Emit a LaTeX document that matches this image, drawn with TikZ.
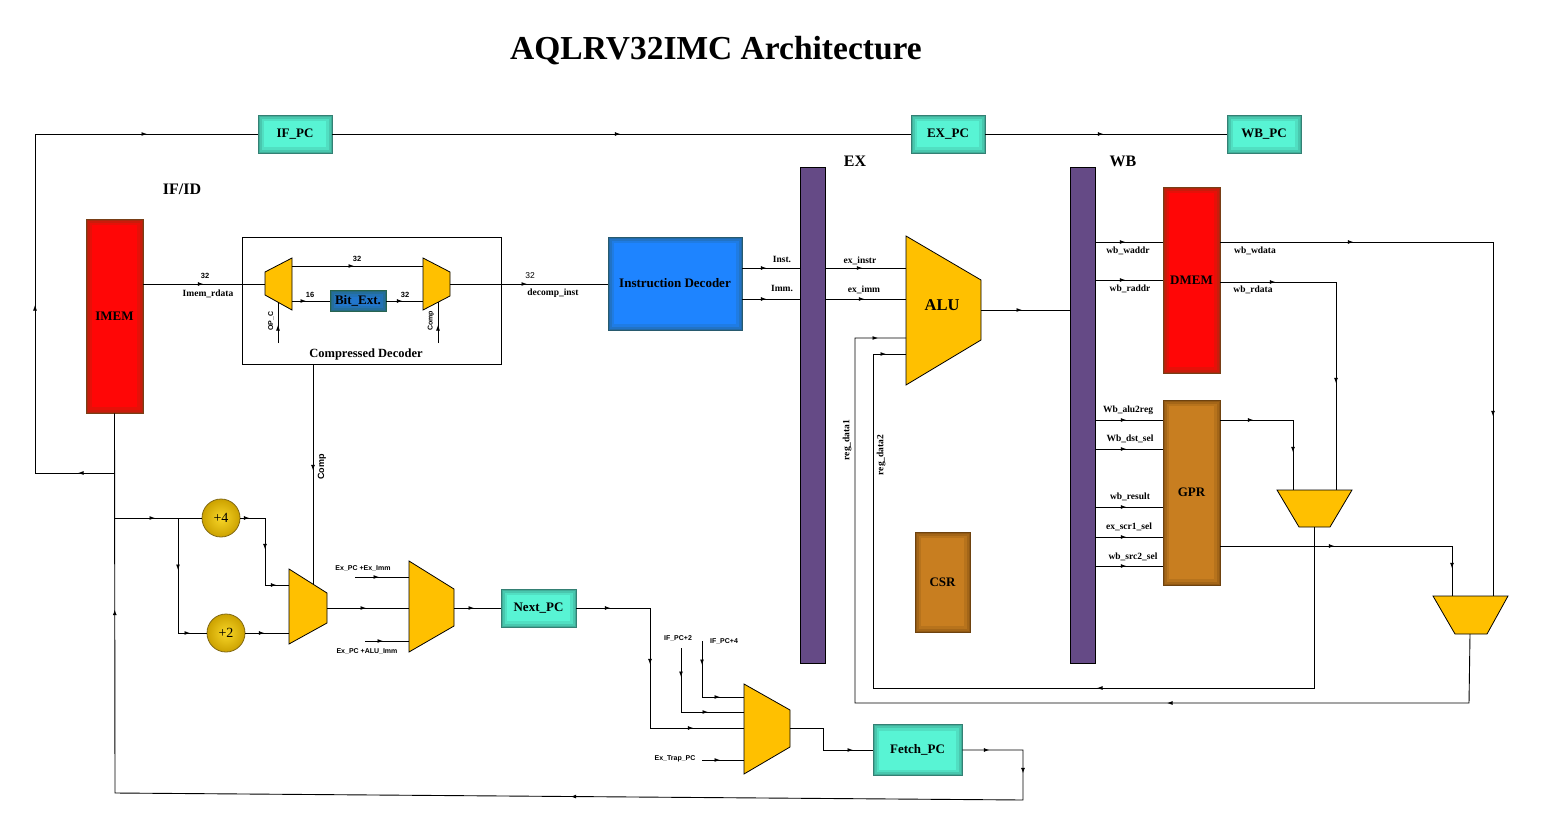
\documentclass[tikz,border=0pt]{standalone}
\usepackage{fontspec}
\setmainfont{Liberation Serif}
\newfontfamily\labsans{Liberation Sans}
\usetikzlibrary{arrows.meta,decorations.markings,calc}

\newcommand\fsz[1]{\fontsize{#1}{#1}\selectfont}

\definecolor{pcteal}{RGB}{88,244,212}
\definecolor{pcedge}{RGB}{52,128,116}
\definecolor{memred}{RGB}{255,6,6}
\definecolor{memedge}{RGB}{120,62,22}
\definecolor{decblue}{RGB}{30,132,255}
\definecolor{decedge}{RGB}{40,90,110}
\definecolor{extblue}{RGB}{34,118,204}
\definecolor{extedge}{RGB}{40,100,80}
\definecolor{muxgold}{RGB}{255,192,0}
\definecolor{stagepurple}{RGB}{101,74,134}
\definecolor{regbrown}{RGB}{200,126,32}
\definecolor{regedge}{RGB}{110,66,14}
\definecolor{coinin}{RGB}{248,214,40}
\definecolor{coinout}{RGB}{204,162,0}
\definecolor{coinedge}{RGB}{130,105,20}

\tikzset{
  wire/.style={line width=0.9pt, draw=black},
  arrowsat/.style={postaction={decorate, decoration={markings,
      mark=at position #1 with {\arrow{Latex[length=5.5pt,width=4pt]}}}}},
  glow/.style 2 args={fill=#1, draw=#2, line width=0.8pt, path picture={
      \foreach \w/\o in {12/0.18, 7/0.25, 3/0.35}{
        \draw[draw=#2, line width=\w pt, opacity=\o]
          (path picture bounding box.south west) rectangle (path picture bounding box.north east);}}},
  box/.style={rectangle, inner sep=0pt, font=\bfseries\fsz{13}, align=center},
  sz/.style 2 args={minimum width=#1, minimum height=#2},
  stagebar/.style={rectangle, inner sep=0pt, fill=stagepurple, draw=black, line width=0.6pt,
      minimum width=25, minimum height=496},
  muxshape/.style={fill=muxgold, draw=black, line width=0.8pt, line join=miter},
  coin/.style={circle, minimum size=38, inner sep=0pt, draw=coinedge, line width=0.8pt,
      inner color=coinin, outer color=coinout, font=\fsz{14}},
  lab/.style={font=\bfseries\fsz{9.5}, inner sep=0pt},
  slab/.style={font=\labsans\bfseries\fsz{7}, inner sep=0pt},
  stagelab/.style={font=\bfseries\fsz{16}, inner sep=0pt},
}

\begin{document}
\begin{tikzpicture}[x=1pt,y=-1pt]
\useasboundingbox (0,0) rectangle (1544,816);
\fill[white] (0,0) rectangle (1544,816);

\node[font=\bfseries\fsz{33.5}, inner sep=0pt] (title) at (716,51) {AQLRV32IMC Architecture};

% ---------- blocks ----------
\node[box,glow={pcteal}{pcedge},sz={74}{38}] (ifpc) at (295,134) {IF\_PC};
\node[box,glow={pcteal}{pcedge},sz={74}{38}] (expc) at (948,134) {EX\_PC};
\node[box,glow={pcteal}{pcedge},sz={74}{38}] (wbpc) at (1264,134) {WB\_PC};
\node[box,glow={pcteal}{pcedge},sz={75}{38}] (nextpc) at (538.5,608) {Next\_PC};
\node[box,glow={pcteal}{pcedge},sz={89}{51}] (fetchpc) at (917.5,750) {Fetch\_PC};

\node[box,glow={memred}{memedge},sz={57}{194}] (imem) at (114.5,316) {IMEM};
\node[box,glow={memred}{memedge},sz={57}{186}] (dmem) at (1191.5,280) {DMEM};
\node[box,glow={regbrown}{regedge},sz={57}{185}] (gpr) at (1191.5,492.5) {GPR};
\node[box,glow={regbrown}{regedge},sz={55}{100}] (csr) at (942.5,582) {CSR};
\node[box,glow={decblue}{decedge},sz={134}{93}] (idec) at (675,283.5) {Instruction Decoder};

\node[stagebar] (exbar) at (812.5,415) {};
\node[stagebar] (wbbar) at (1082.5,415) {};
\node[stagelab] (exlab) at (855,161) {EX};
\node[stagelab] (wblab) at (1123,161) {WB};
\node[stagelab] (ifidlab) at (182,189) {IF/ID};

% compressed decoder
\node[draw, line width=0.8pt, rectangle, inner sep=0pt, sz={259}{127}] (cdec) at (371.5,300.5) {};
\node[inner sep=0pt, font=\bfseries\fsz{12.5}] (cdeclab) at (366,354) {Compressed Decoder};
\node[box,glow={extblue}{extedge},sz={56}{21},font=\bfseries\fsz{13}] (bitext) at (358,301) {Bit\_Ext.};

% ---------- multiplexers ----------
\draw[muxshape] (265,272) -- (292,258) -- (292,310) -- (265,295) -- cycle;
\coordinate (m1in) at (265,284);
\coordinate (m1top) at (292,266);
\coordinate (m1bot) at (292,301);
\coordinate (m1sel) at (278,302);

\draw[muxshape] (423,258) -- (450,272) -- (450,296) -- (423,310) -- cycle;
\coordinate (m2top) at (423,266);
\coordinate (m2bot) at (423,301);
\coordinate (m2out) at (450,284);
\coordinate (m2sel) at (438,302);

\draw[muxshape] (906,236) -- (981,280) -- (981,340) -- (906,385) -- cycle;
\node[inner sep=0pt, font=\bfseries\fsz{16.5}] (alu) at (942,305) {ALU};
\coordinate (aluout) at (981,310);
\coordinate (aluinst) at (906,268);
\coordinate (aluimm) at (906,299);
\coordinate (alua) at (906,338);
\coordinate (alub) at (906,354);

\draw[muxshape] (289,569) -- (327,593) -- (327,623) -- (289,644) -- cycle;
\coordinate (m3in1) at (289,585);
\coordinate (m3in2) at (289,633);
\coordinate (m3out) at (327,608);
\coordinate (m3sel) at (313,584);

\draw[muxshape] (409,561) -- (454,589) -- (454,626) -- (409,652) -- cycle;
\coordinate (m4in1) at (409,577);
\coordinate (m4in2) at (409,608);
\coordinate (m4in3) at (409,641);
\coordinate (m4out) at (454,608);

\draw[muxshape] (744,684) -- (790,710) -- (790,747) -- (744,774) -- cycle;
\coordinate (m5in1) at (744,697);
\coordinate (m5in2) at (744,712);
\coordinate (m5in3) at (744,728);
\coordinate (m5in4) at (744,760);
\coordinate (m5out) at (790,728);

\draw[muxshape] (1277,490) -- (1352,490) -- (1330,527) -- (1299,527) -- cycle;
\coordinate (mLa) at (1293,490);
\coordinate (mLb) at (1336,490);
\coordinate (mLout) at (1314,527);

\draw[muxshape] (1433,596) -- (1508,596) -- (1487,634) -- (1455,634) -- cycle;
\coordinate (mRa) at (1452,596);
\coordinate (mRb) at (1493,596);
\coordinate (mRout) at (1470,634);

% adders
\node[coin] (inc4) at (221,518) {+4};
\node[coin] (inc2) at (226,633) {+2};

% ---------- PC path ----------
\draw[wire,arrowsat=288pt] (ifpc) -- (expc);
\draw[wire,arrowsat=118pt] (expc) -- (wbpc);

\coordinate (jpc) at (115,473);
\coordinate (jinc) at (115,518);
\coordinate (jsplit) at (178,518);
\draw[wire,arrowsat=37pt,arrowsat=248pt,arrowsat=531pt] (jpc) -- (35,473) -- (35,134) -- (ifpc.west);
\draw[wire,arrowsat=27pt,arrowsat=84pt,arrowsat=563pt,arrowsat=1202pt]
  (fetchpc.east) -- (1023,750) -- (1023,800) -- (115,793) -- (imem.south);

\draw[wire,arrowsat=40pt] (jinc) -- (inc4.west);
\draw[wire,arrowsat=52pt,arrowsat=127pt] (jsplit) -- (178,633) -- (inc2.west);
\draw[wire,arrowsat=9pt,arrowsat=56pt,arrowsat=103pt] (inc4.east) -- (265,518) -- (265,585) -- (m3in1);
\draw[wire,arrowsat=19pt] (inc2.east) -- (m3in2);
\draw[wire,arrowsat=39pt] (m3out) -- (m4in2);
\draw[wire,arrowsat=106pt] (cdec.south -| m3sel) -- (m3sel);
\node[font=\labsans\bfseries\fsz{9}, inner sep=0pt, rotate=90] (complab) at (322,467) {Comp};

\coordinate (eximm) at (355,577);
\coordinate (exalu) at (365,641);
\draw[wire,arrowsat=24pt] (eximm) -- (m4in1);
\draw[wire,arrowsat=18pt] (exalu) -- (m4in3);
\node[slab] (eximmlab) at (363,568) {Ex\_PC +Ex\_Imm};
\node[slab] (exalulab) at (367,651) {Ex\_PC +ALU\_Imm};
\draw[wire,arrowsat=20pt] (m4out) -- (nextpc.west);

\draw[wire,arrowsat=34pt,arrowsat=130pt,arrowsat=237pt] (nextpc.east) -- (650,608) -- (650,728) -- (m5in3);
\coordinate (pc2) at (681,648);
\coordinate (pc4) at (702,641);
\coordinate (trap) at (702,760);
\draw[wire,arrowsat=29pt,arrowsat=91pt] (pc2) -- (681,712) -- (m5in2);
\draw[wire,arrowsat=24pt,arrowsat=74pt] (pc4) -- (702,697) -- (m5in1);
\draw[wire,arrowsat=18pt] (trap) -- (m5in4);
\node[slab] (pc2lab) at (678,638) {IF\_PC+2};
\node[slab] (pc4lab) at (724,641) {IF\_PC+4};
\node[slab] (traplab) at (675,759) {Ex\_Trap\_PC};
\draw[wire,arrowsat=85pt] (m5out) -- (823,728) -- (823,750) -- (fetchpc.west);

% ---------- fetch / decode ----------
\draw[wire,arrowsat=60pt] (imem.east |- m1in) -- (m1in);
\node[font=\labsans\bfseries\fsz{7.5}, inner sep=0pt] (w32a) at (205,276) {32};
\node[lab] (imemlab) at (208,294) {Imem\_rdata};
\draw[wire,arrowsat=62pt] (m1top) -- (m2top);
\node[font=\labsans\bfseries\fsz{7.5}, inner sep=0pt] (w32b) at (357,259) {32};
\draw[wire,arrowsat=14pt] (m1bot) -- (bitext.west |- m1bot);
\node[font=\labsans\bfseries\fsz{7.5}, inner sep=0pt] (w16) at (310,295) {16};
\draw[wire,arrowsat=16pt] (bitext.east |- m2bot) -- (m2bot);
\node[font=\labsans\bfseries\fsz{7.5}, inner sep=0pt] (w32c) at (405,295) {32};
\coordinate (opc) at (278,343);
\coordinate (cmpin) at (438,343);
\draw[wire,arrowsat=18pt] (opc) -- (m1sel);
\draw[wire,arrowsat=18pt] (cmpin) -- (m2sel);
\node[slab, rotate=90] (opclab) at (271,321) {OP\_C};
\node[slab, rotate=90] (cmpinlab) at (431,321) {Comp};
\draw[wire,arrowsat=77pt] (m2out) -- (idec.west |- m2out);
\node[font=\labsans\fsz{8.5}, inner sep=0pt] (w32d) at (530,276) {32};
\node[lab] (decomplab) at (553,293) {decomp\_inst};

% ---------- execute ----------
\coordinate (yinst) at (0,268);
\coordinate (yimm) at (0,299);
\draw[wire,arrowsat=24pt] (idec.east |- yinst) -- (exbar.west |- yinst);
\draw[wire,arrowsat=24pt] (idec.east |- yimm) -- (exbar.west |- yimm);
\node[lab] (instlab) at (782,259) {Inst.};
\node[lab] (immlab) at (782,288) {Imm.};
\draw[wire,arrowsat=37pt] (exbar.east |- yinst) -- (aluinst);
\draw[wire,arrowsat=39pt] (exbar.east |- yimm) -- (aluimm);
\node[lab] (exinstrlab) at (860,261) {ex\_instr};
\node[lab] (eximmlab2) at (864,290) {ex\_imm};
\draw[wire,arrowsat=41pt] (aluout) -- (wbbar.west |- aluout);

\draw[wire,arrowsat=371pt,arrowsat=1071pt] (mRout) -- (1469,703) -- (855,703) -- (855,338) -- (alua);
\draw[wire,arrowsat=378pt,arrowsat=949pt] (mLout) -- (1314,688) -- (873,688) -- (873,354) -- (alub);
\node[lab, rotate=90] (rd1lab) at (847,440) {reg\_data1};
\node[lab, rotate=90] (rd2lab) at (881,455) {reg\_data2};

% ---------- write back ----------
\coordinate (ywa) at (0,242);
\coordinate (yra) at (0,280);
\draw[wire,arrowsat=30pt] (wbbar.east |- ywa) -- (dmem.west |- ywa);
\draw[wire,arrowsat=30pt] (wbbar.east |- yra) -- (dmem.west |- yra);
\node[lab] (wadlab) at (1128,251) {wb\_waddr};
\node[lab] (radlab) at (1130,289) {wb\_raddr};

\coordinate (yrd) at (0,282);
\draw[wire,arrowsat=133pt,arrowsat=447pt] (dmem.east |- ywa) -- (1493,242) -- (mRb);
\draw[wire,arrowsat=55pt,arrowsat=217pt] (dmem.east |- yrd) -- (1336,282) -- (mLb);
\node[lab] (wdlab) at (1255,251) {wb\_wdata};
\node[lab] (rdlab) at (1253,290) {wb\_rdata};

\foreach \yy in {420,449,507,537,566}{
  \coordinate (gin) at (0,\yy);
  \draw[wire,arrowsat=31pt] (wbbar.east |- gin) -- (gpr.west |- gin);
}
\node[lab] (g1) at (1128,410) {Wb\_alu2reg};
\node[lab] (g2) at (1130,439) {Wb\_dst\_sel};
\node[lab] (g3) at (1130,497) {wb\_result};
\node[lab] (g4) at (1129,527) {ex\_scr1\_sel};
\node[lab] (g5) at (1133,557) {wb\_src2\_sel};

\coordinate (yg1) at (0,420);
\coordinate (yg2) at (0,546);
\draw[wire,arrowsat=33pt,arrowsat=105pt] (gpr.east |- yg1) -- (1293,420) -- (mLa);
\draw[wire,arrowsat=114pt,arrowsat=254pt] (gpr.east |- yg2) -- (1452,546) -- (mRa);

\end{tikzpicture}
\end{document}
